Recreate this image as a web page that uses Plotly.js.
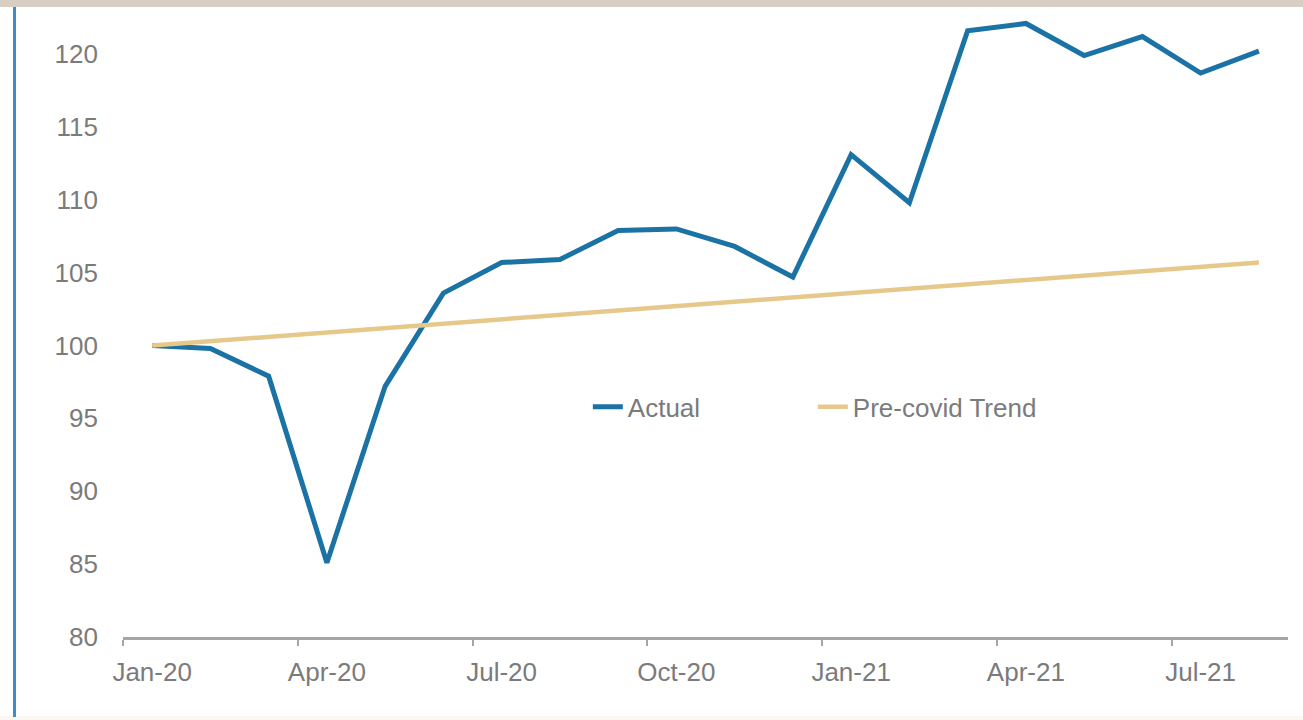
<!DOCTYPE html>
<html>
<head>
<meta charset="utf-8">
<script src="https://cdn.plot.ly/plotly-3.0.1.min.js"></script>
<style>
  html, body { margin: 0; padding: 0; background: #ffffff; }
  #wrap { position: relative; width: 1303px; height: 720px; overflow: hidden; }
  #chart { position: absolute; left: 0; top: 0; width: 1303px; height: 720px; }
  #topband { position: absolute; left: 0; top: 0; width: 1303px; height: 7px; background: #d8cec4; z-index: 2; }
  #leftbar { position: absolute; left: 13px; top: 7px; width: 3px; height: 710px; background: #3f8ccc; z-index: 2; }
  #bottomband { position: absolute; left: 0; top: 716px; width: 1303px; height: 4px; background: #fbf8f1; z-index: 1; }
</style>
</head>
<body>
<div id="wrap">
  <div id="chart"></div>
  <div id="topband"></div>
  <div id="leftbar"></div>
  <div id="bottomband"></div>
</div>
<script>
const months = ["Jan-20","Feb-20","Mar-20","Apr-20","May-20","Jun-20","Jul-20","Aug-20","Sep-20","Oct-20",
                "Nov-20","Dec-20","Jan-21","Feb-21","Mar-21","Apr-21","May-21","Jun-21","Jul-21","Aug-21"];
const actual = [100.0, 99.8, 97.9, 85.1, 97.2, 103.6, 105.7, 105.9, 107.9, 108.0,
                106.8, 104.7, 113.1, 109.8, 121.6, 122.1, 119.9, 121.2, 118.7, 120.2];
const trend  = [100.0, 100.3, 100.6, 100.9, 101.2, 101.5, 101.8, 102.1, 102.4, 102.7,
                103.0, 103.3, 103.6, 103.9, 104.2, 104.5, 104.8, 105.1, 105.4, 105.7];
const yTicks = [80, 85, 90, 95, 100, 105, 110, 115, 120];

const font = { family: "Liberation Sans, Arial, sans-serif", size: 26, color: "#7b7b7b" };

const data = [
  { x: months, y: actual, type: "scatter", mode: "lines", name: "Actual",
    line: { color: "#1b72a4", width: 5, shape: "linear" }, hoverinfo: "skip" },
  { x: months, y: trend, type: "scatter", mode: "lines", name: "Pre-covid Trend",
    line: { color: "#e6c98a", width: 4.5 }, hoverinfo: "skip" }
];

const layout = {
  width: 1303, height: 720,
  margin: { l: 123, r: 15, t: 8, b: 83 },
  paper_bgcolor: "#ffffff", plot_bgcolor: "#ffffff",
  font: font,
  showlegend: true,
  legend: {
    orientation: "h", x: 0.399, y: 0.366, xanchor: "left", yanchor: "middle",
    font: font, bgcolor: "rgba(0,0,0,0)", entrywidth: 180, entrywidthmode: "pixels",
    traceorder: "normal"
  },
  xaxis: {
    type: "category", range: [-0.5, 19.5], dtick: 3, tickson: "boundaries",
    tickangle: 0,
    showline: true, linecolor: "#a6a6a6", linewidth: 3,
    ticks: "outside", ticklen: 6, tickwidth: 2, tickcolor: "#a6a6a6",
    showgrid: false, zeroline: false, tickfont: font, ticklabelstandoff: 10,
    fixedrange: true
  },
  yaxis: {
    range: [80, 123.16], tickvals: yTicks, ticktext: yTicks.map(String),
    showline: false, showgrid: false, zeroline: false, ticks: "",
    tickfont: font, ticklabelstandoff: 24, fixedrange: true
  }
};

Plotly.newPlot("chart", data, layout, { displayModeBar: false, staticPlot: true });
</script>
</body>
</html>
